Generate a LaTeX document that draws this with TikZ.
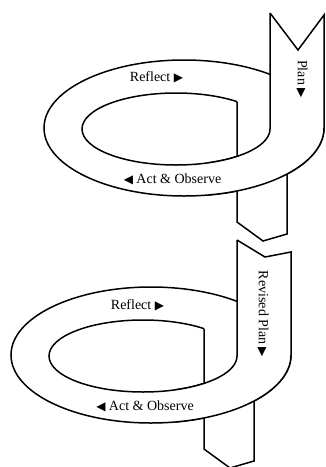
\documentclass[tikz,border=0pt]{standalone}
\usepackage{fontspec}
\setmainfont{Liberation Serif}
\newfontfamily\symfont{DejaVu Sans}
\newcommand\rtri{{\symfont\fontsize{12}{12}\selectfont ▶}}
\newcommand\ltri{{\symfont\fontsize{12}{12}\selectfont ◀}}

\begin{document}
\begin{tikzpicture}[x=1pt,y=-1pt]
\tikzset{band/.style = {draw,fill=white,line width=1.5pt}}
\tikzset{edge/.style = {line width=1.5pt}}
\tikzset{lbl/.style = {inner sep=0pt,font=\fontsize{14}{16}\selectfont}}
\useasboundingbox (0,0) rectangle (325,467);
% cycles
\foreach \cx/\cy/\my/\ry in {184/128/-78/-113, 151/355/-98/-103}{
\begin{scope}[shift={(\cx,\cy)}]
% back of the ring
\draw[band] (0,0) ellipse [x radius=140, y radius=68];
\draw[edge] (-8,1) ellipse [x radius=94, y radius=36];
% strip going down behind
\fill[white] (53,-40) -- (53,94) -- (79,113) -- (103,106) -- (103,-40) -- cycle;
\draw[edge] (53,-26.4) -- (53,94) -- (79,113) -- (103,106) -- (103,-30);
% front of the ring
\fill[white] (86,-115) -- (114,\my) -- (140,\ry) -- (140,0)
  arc [start angle=0, end angle=80, x radius=140, y radius=68]
  -- (24.15,34.8) arc [start angle=70, end angle=0, x radius=94, y radius=36] -- cycle;
\draw[edge] (86,-115) -- (114,\my) -- (140,\ry) -- (140,0)
  arc [start angle=0, end angle=80, x radius=140, y radius=68];
\draw[edge] (86,-115) -- (86,1) arc [start angle=0, end angle=70, x radius=94, y radius=36];
\end{scope}
}
% labels
\node[lbl] (reflect1) at (156.5,77) {Reflect \rtri};
\node[lbl] (act1) at (172.5,179) {\ltri\ Act \& Observe};
\node[lbl,rotate=-90] (plan1) at (302,79) {Plan \rtri};
\node[lbl] (reflect2) at (137.5,305) {Reflect \rtri};
\node[lbl] (act2) at (145,406) {\ltri\ Act \& Observe};
\node[lbl,rotate=-90] (plan2) at (263,314) {Revised Plan \rtri};
\end{tikzpicture}
\end{document}
